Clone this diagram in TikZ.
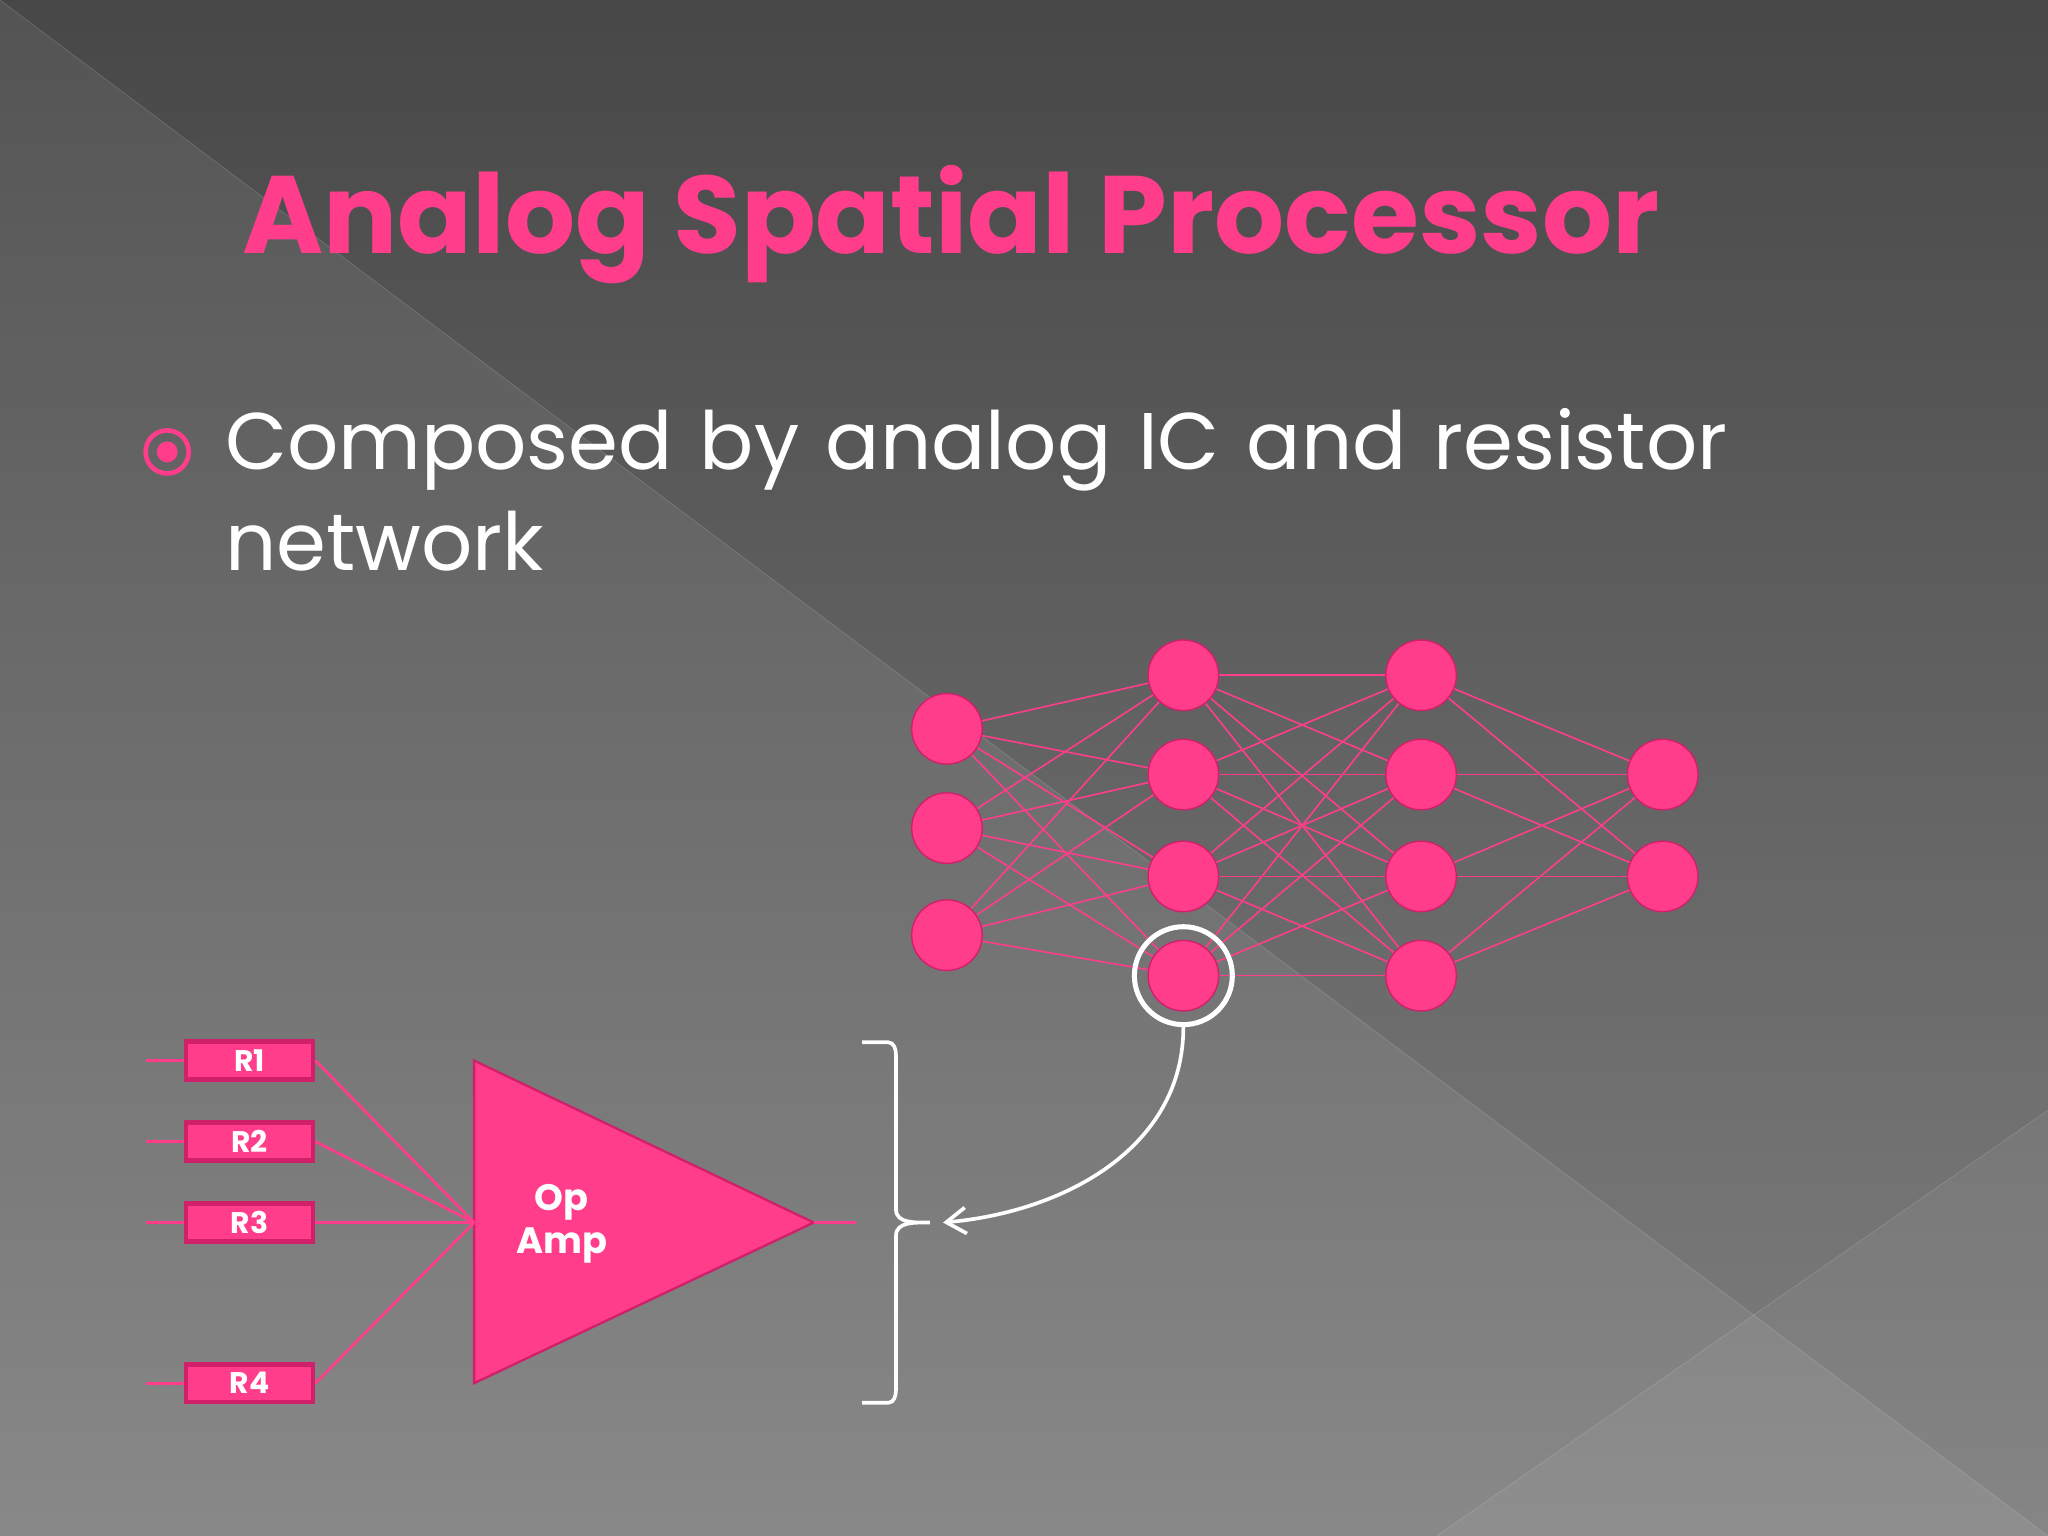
\documentclass[tikz,border=0pt]{standalone}
\usepackage{fontspec}
\setmainfont{Poppins}
\usetikzlibrary{arrows.meta}
\definecolor{pk}{HTML}{FF3D8B}
\definecolor{pkd}{HTML}{D0206A}
\begin{document}
\begin{tikzpicture}[x=0.02cm,y=-0.02cm,
  neu/.style={circle,fill=pk,draw=pkd,line width=0.6pt,minimum size=1.08cm,inner sep=0},
  res/.style={rectangle,fill=pk,draw=pkd,line width=2pt,minimum width=1.95cm,minimum height=0.58cm,inner sep=0,text=white,font=\bfseries\fontsize{13}{13}\selectfont},
  wire/.style={pk,line width=1.2pt},
  lnk/.style={pk,line width=0.7pt}]
\useasboundingbox (0,0) rectangle (1568,1176);
\shade[top color=black!72,bottom color=black!50] (0,0) rectangle (1568,1176);
\fill[white,opacity=0.07] (0,0) -- (1568,1176) -- (0,1176) -- cycle;
\fill[white,opacity=0.05] (1100,1176) -- (1568,850) -- (1568,1176) -- cycle;
\draw[white,opacity=0.12] (0,0) -- (1568,1176);
\draw[white,opacity=0.12] (1100,1176) -- (1568,850);
\node[text=pk,font=\bfseries\fontsize{48}{48}\selectfont] (title) at (728,172) {Analog Spatial Processor};
\node[circle,draw=pk,line width=2pt,minimum size=0.66cm,inner sep=0] (bul) at (128,346) {};
\fill[pk] (bul) circle (0.16cm);
\node[anchor=north west,text=white,align=left,font=\fontsize{35}{44}\selectfont,text width=27cm,inner sep=0] (txt) at (172,312) {Composed by analog IC and resistor\\network};
% network
\foreach \n/\x/\y in {a1/725/558,a2/725/634,a3/725/716,
  b1/906/517,b2/906/593,b3/906/671,b4/906/747,
  c1/1088/517,c2/1088/593,c3/1088/671,c4/1088/747,
  d1/1273/593,d2/1273/671} \coordinate (\n) at (\x,\y);
\foreach \i in {1,2,3}{\foreach \j in {1,2,3,4}{\draw[lnk] (a\i) -- (b\j);}}
\foreach \i in {1,2,3,4}{\foreach \j in {1,2,3,4}{\draw[lnk] (b\i) -- (c\j);}}
\foreach \i in {1,2,3,4}{\foreach \j in {1,2}{\draw[lnk] (c\i) -- (d\j);}}
\foreach \n in {a1,a2,a3,b1,b2,b3,b4,c1,c2,c3,c4,d1,d2} \node[neu] (N\n) at (\n) {};
\node[circle,draw=white,line width=2.2pt,minimum size=1.5cm,inner sep=0] (ring) at (906,747) {};
% op amp
\coordinate (in) at (363,936);
\coordinate (out) at (623,936);
\fill[pk,draw=pkd,line width=1pt] (363,812) -- (out) -- (363,1059) -- cycle;
\node[text=white,font=\bfseries\fontsize{16}{19}\selectfont,align=center] (oa) at (430,937) {Op\\Amp};
\foreach \k/\y in {1/812,2/874,3/936,4/1059}{
  \node[res] (R\k) at (191,\y) {R\k};
  \coordinate (L\k) at (112,\y);
  \draw[wire] (L\k) -- (R\k.west);
  \draw[wire] (R\k.east) -- (in);
}
\coordinate (o2) at (655,936);
\draw[wire] (out) -- (o2);
% brace
\coordinate (bt) at (712,936);
\draw[white,line width=1.6pt] (660,798) -- (680,798) to[out=0,in=90] (686,808) -- (686,926) to[out=-90,in=180] (bt) to[out=180,in=90] (686,946) -- (686,1064) to[out=-90,in=0] (680,1074) -- (660,1074);
\draw[white,line width=1.6pt,-{Straight Barb[length=3mm,width=4mm]}] (ring.south) to[out=-90,in=5] (722,936);
\end{tikzpicture}
\end{document}
